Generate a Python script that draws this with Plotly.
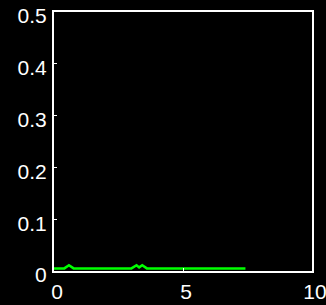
import plotly.graph_objects as go

x_vals = [0.0, 0.4, 0.58, 0.76, 3.0, 3.2, 3.3, 3.42, 3.6, 7.42]
y_vals = [0.005, 0.005, 0.011, 0.005, 0.005, 0.011, 0.007, 0.011, 0.005, 0.005]
x_ticks = [0, 5, 10]
y_ticks = [0, 0.1, 0.2, 0.3, 0.4, 0.5]
y_tick_text = ["0", "0.1", "0.2", "0.3", "0.4", "0.5"]

fig = go.Figure()
fig.add_trace(go.Scatter(x=x_vals, y=y_vals, mode="lines",
                         line=dict(color="#00ff00", width=2.5), showlegend=False))

fig.update_layout(
    width=326, height=305,
    paper_bgcolor="black", plot_bgcolor="black",
    margin=dict(l=54, r=14, t=12, b=34),
    font=dict(family="Liberation Sans, Arial", size=21, color="white"),
)
fig.update_xaxes(range=[0, 10], tickvals=x_ticks, ticktext=[str(v) for v in x_ticks],
                 showgrid=False, zeroline=False, showline=True, mirror=True,
                 linecolor="white", linewidth=2, ticks="inside", ticklen=3,
                 tickcolor="white", tickfont=dict(color="white"),
                 automargin=False, ticklabelstandoff=1, ticklabelshift=3,
                 ticklabeloverflow="allow")
fig.update_yaxes(range=[0, 0.5], tickvals=y_ticks, ticktext=y_tick_text,
                 showgrid=False, zeroline=False, showline=True, mirror=True,
                 linecolor="white", linewidth=2, ticks="inside", ticklen=3,
                 tickcolor="white", tickfont=dict(color="white"),
                 automargin=False, ticklabelstandoff=1, ticklabelshift=4,
                 ticklabeloverflow="allow")

fig.write_html("out.html", config={"displayModeBar": False},
               post_script="document.body.style.margin='0';document.body.style.background='black';")
